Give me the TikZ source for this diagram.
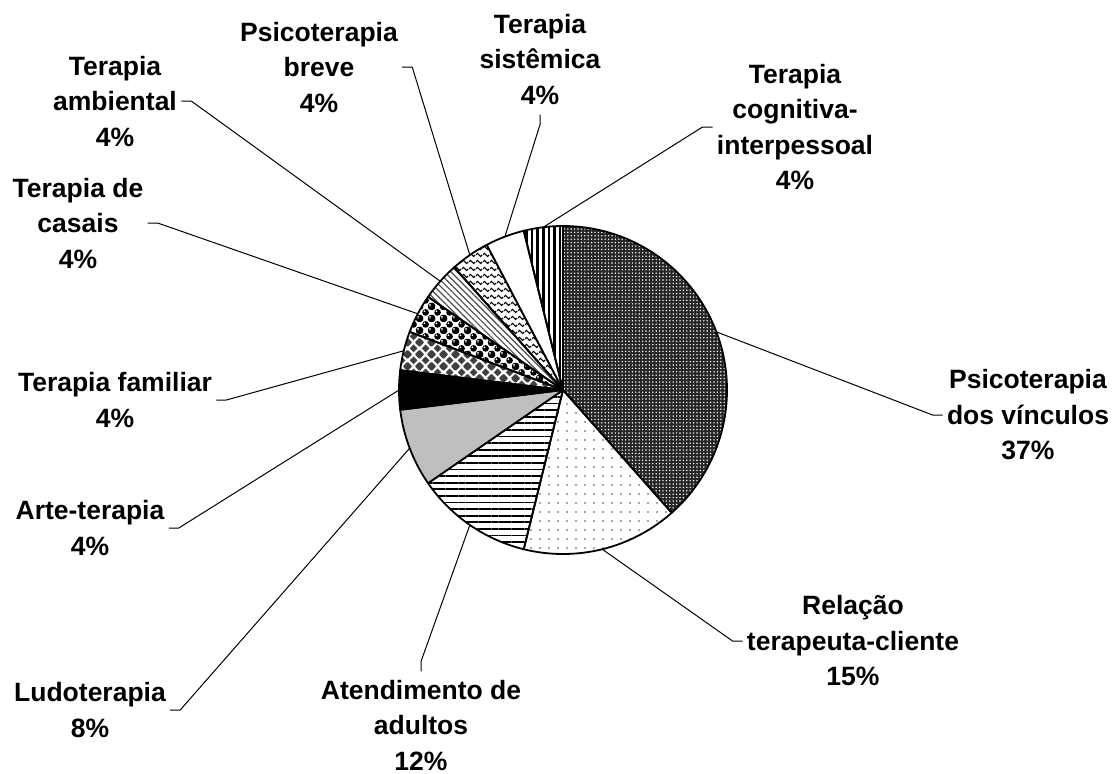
\documentclass[tikz,border=0pt]{standalone}
\usepackage{fontspec}
\setmainfont{Liberation Sans}
\usetikzlibrary{patterns,patterns.meta}

\newcommand\diamondat[2]{%
  \pgfpathmoveto{\pgfpoint{#1}{#2-2.1pt}}%
  \pgfpathlineto{\pgfpoint{#1+2.1pt}{#2}}%
  \pgfpathlineto{\pgfpoint{#1}{#2+2.1pt}}%
  \pgfpathlineto{\pgfpoint{#1-2.1pt}{#2}}%
  \pgfpathclose}
\newcommand\ballat[2]{\pgfpathcircle{\pgfpoint{#1}{#2}}{1.8pt}}
\newcommand\shineat[2]{\pgfpathcircle{\pgfpoint{#1-0.6pt}{#2+0.6pt}}{0.5pt}}

\pgfdeclarepatternformonly{waves}{\pgfpointorigin}{\pgfpoint{3.5pt}{3.3pt}}{\pgfpoint{3.5pt}{3.3pt}}{%
  \pgfsetlinewidth{0.6pt}
  \pgfpathmoveto{\pgfpoint{0pt}{1.65pt}}
  \pgfpathsine{\pgfpoint{0.875pt}{0.8pt}}
  \pgfpathcosine{\pgfpoint{0.875pt}{-0.8pt}}
  \pgfpathsine{\pgfpoint{0.875pt}{-0.8pt}}
  \pgfpathcosine{\pgfpoint{0.875pt}{0.8pt}}
  \pgfusepath{stroke}}

\pgfdeclarepatternformonly{diamonds}{\pgfpointorigin}{\pgfpoint{6pt}{6pt}}{\pgfpoint{6pt}{6pt}}{%
  \diamondat{0pt}{0pt}\diamondat{6pt}{0pt}\diamondat{0pt}{6pt}\diamondat{6pt}{6pt}
  \diamondat{3pt}{3pt}
  \pgfusepath{fill}}

\pgfdeclarepatterninherentlycolored{spheres}{\pgfpointorigin}{\pgfpoint{6pt}{6pt}}{\pgfpoint{6pt}{6pt}}{%
  \pgfsetfillcolor{black}
  \ballat{0pt}{0pt}\ballat{6pt}{0pt}\ballat{0pt}{6pt}\ballat{6pt}{6pt}\ballat{3pt}{3pt}
  \pgfusepath{fill}
  \pgfsetfillcolor{white}
  \shineat{0pt}{0pt}\shineat{6pt}{0pt}\shineat{0pt}{6pt}\shineat{6pt}{6pt}\shineat{3pt}{3pt}
  \pgfusepath{fill}}

\begin{document}
\begin{tikzpicture}[x=0.5pt,y=-0.5pt,
    label/.style={align=center,inner sep=2pt,font=\bfseries\fontsize{13.25}{17.75}\selectfont},
    slice/.style={draw=black,line width=0.9pt,line join=round},
    leader/.style={draw=black,line width=0.5pt}]
	\useasboundingbox (0,0) rectangle (1118,773);
	\begin{scope}[shift={(563,390)},y=0.5pt]
		\filldraw [slice,preaction={fill=black!85},pattern={Dots[distance=1.7pt,radius=0.4pt]},pattern color=white] (0,0) -- (90:164) arc [start angle=90,end angle=-48.46,radius=164] -- cycle;
		\filldraw [slice,pattern={Dots[distance=4.5pt,radius=0.45pt]},pattern color=black!70] (0,0) -- (-48.46:164) arc [start angle=-48.46,end angle=-103.85,radius=164] -- cycle;
		\filldraw [slice,pattern={Lines[angle=0,distance=3.3pt,line width=0.9pt]}] (0,0) -- (-103.85:164) arc [start angle=-103.85,end angle=-145.38,radius=164] -- cycle;
		\filldraw [slice,fill=black!25] (0,0) -- (-145.38:164) arc [start angle=-145.38,end angle=-173.08,radius=164] -- cycle;
		\filldraw [slice,fill=black] (0,0) -- (-173.08:164) arc [start angle=-173.08,end angle=-186.92,radius=164] -- cycle;
		\filldraw [slice,pattern=diamonds,pattern color=black!75] (0,0) -- (-186.92:164) arc [start angle=-186.92,end angle=-200.77,radius=164] -- cycle;
		\filldraw [slice,pattern=spheres] (0,0) -- (-200.77:164) arc [start angle=-200.77,end angle=-214.62,radius=164] -- cycle;
		\filldraw [slice,pattern={Lines[angle=-45,distance=2.2pt,line width=0.6pt]},pattern color=black!70] (0,0) -- (-214.62:164) arc [start angle=-214.62,end angle=-228.46,radius=164] -- cycle;
		\filldraw [slice,pattern=waves] (0,0) -- (-228.46:164) arc [start angle=-228.46,end angle=-242.31,radius=164] -- cycle;
		\filldraw [slice,fill=white] (0,0) -- (-242.31:164) arc [start angle=-242.31,end angle=-256.15,radius=164] -- cycle;
		\filldraw [slice,pattern={Lines[angle=90,distance=2.8pt,line width=1.3pt]}] (0,0) -- (-256.15:164) arc [start angle=-256.15,end angle=-270,radius=164] -- cycle;
		\coordinate (m-vinc) at (20.77:164);
		\coordinate (m-rel) at (-76.15:164);
		\coordinate (m-aten) at (-124.62:164);
		\coordinate (m-ludo) at (-159.23:164);
		\coordinate (m-arte) at (-180:164);
		\coordinate (m-fam) at (-193.85:164);
		\coordinate (m-casais) at (-207.69:164);
		\coordinate (m-amb) at (-221.54:164);
		\coordinate (m-breve) at (-235.38:164);
		\coordinate (m-sist) at (-249.23:164);
		\coordinate (m-cog) at (-263.08:164);
	\end{scope}
	\node [label] (vinc) at (1028,415) {Psicoterapia\\dos vínculos\\37\%};
	\node [label] (rel) at (853,641) {Relação\\terapeuta-cliente\\15\%};
	\node [label] (aten) at (421,725) {Atendimento de\\adultos\\12\%};
	\node [label] (ludo) at (90,710) {Ludoterapia\\8\%};
	\node [label] (arte) at (90,528) {Arte-terapia\\4\%};
	\node [label] (fam) at (115,400) {Terapia familiar\\4\%};
	\node [label] (casais) at (78,223) {Terapia de\\casais\\4\%};
	\node [label] (amb) at (115,101) {Terapia\\ambiental\\4\%};
	\node [label] (breve) at (319,67) {Psicoterapia\\breve\\4\%};
	\node [label] (sist) at (540,59) {Terapia\\sistêmica\\4\%};
	\node [label] (cog) at (795,127) {Terapia\\cognitiva-\\interpessoal\\4\%};
	\draw [leader] (vinc.west) -- ++(-10,0) -- (m-vinc);
	\draw [leader] (rel.west) -- ++(-10,0) -- (m-rel);
	\draw [leader] (aten.north) ++(0,-4) -- ++(0,-10) -- (m-aten);
	\draw [leader] (ludo.east) -- ++(10,0) -- (m-ludo);
	\draw [leader] (arte.east) -- ++(10,0) -- (m-arte);
	\draw [leader] (fam.east) -- ++(10,0) -- (m-fam);
	\draw [leader] (casais.east) -- ++(10,0) -- (m-casais);
	\draw [leader] (amb.east) -- ++(10,0) -- (m-amb);
	\draw [leader] (breve.east) -- ++(10,0) -- (m-breve);
	\draw [leader] (sist.south) ++(0,6) -- ++(0,10) -- (m-sist);
	\draw [leader] (cog.west) -- ++(-10,0) -- (m-cog);
\end{tikzpicture}
\end{document}
